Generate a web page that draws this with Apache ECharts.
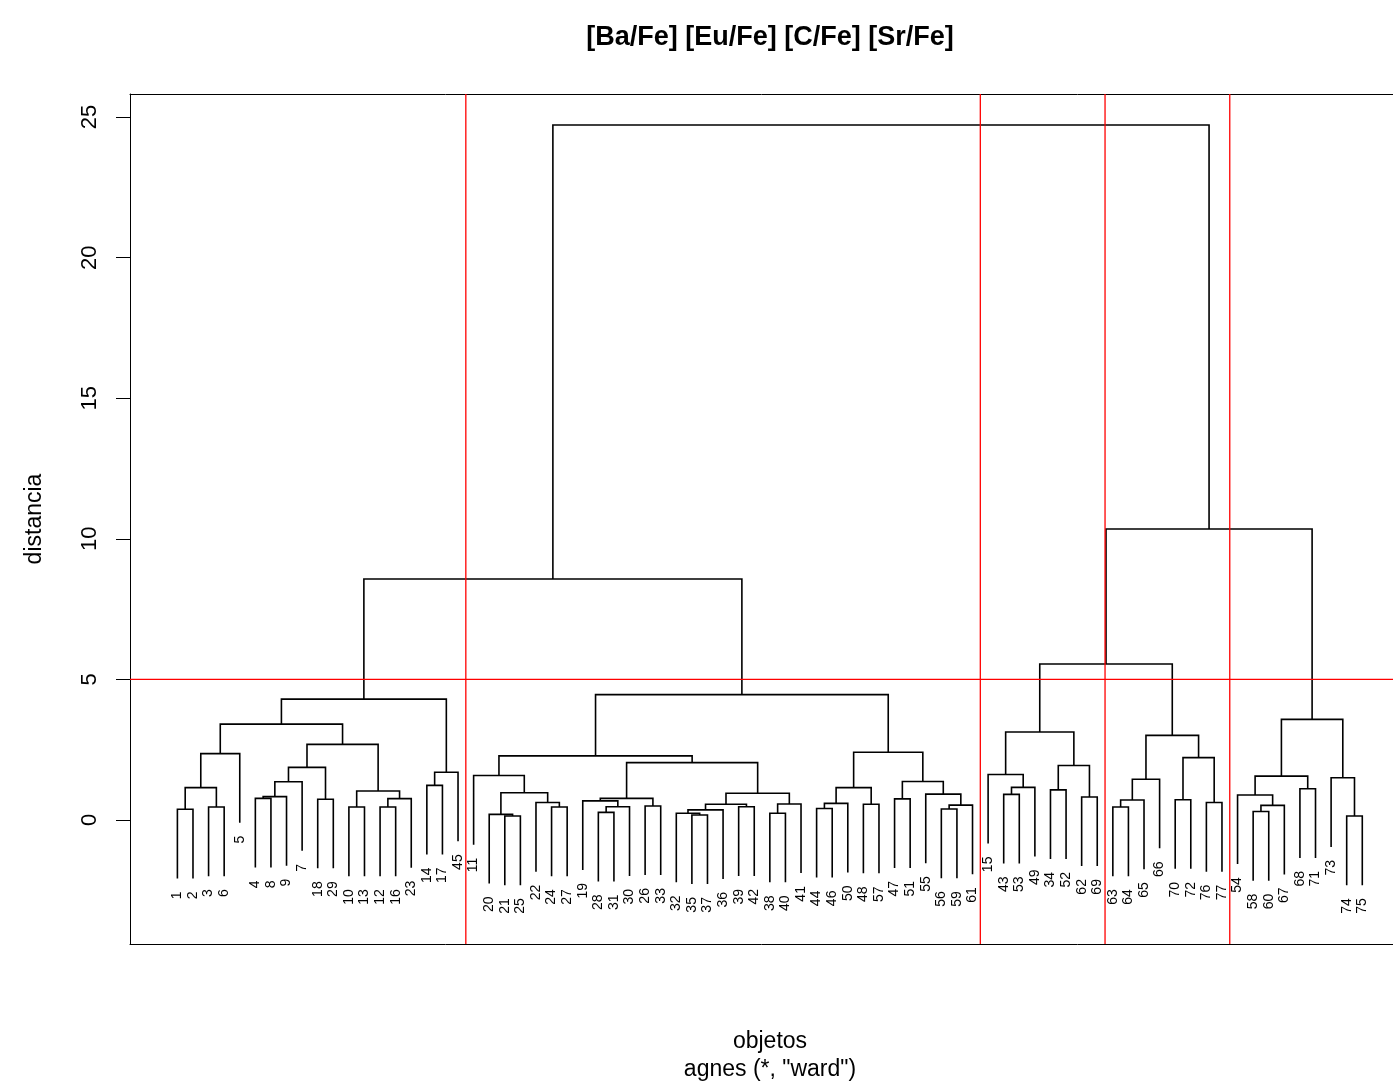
<!DOCTYPE html>
<html><head><meta charset="utf-8">
<script src="https://cdn.jsdelivr.net/npm/echarts@6/dist/echarts.min.js"></script>
<style>html,body{margin:0;padding:0;background:#fff}#c{width:1393px;height:1088px}</style>
</head><body><div id="c"></div>
<script>
// Leaf labels in dendrogram order (left to right)
const leafOrder = [1,2,3,6,5,4,8,9,7,18,29,10,13,12,16,23,14,17,45,11,20,21,25,22,24,27,19,28,31,30,26,33,32,35,37,36,39,42,38,40,41,44,46,50,48,57,47,51,55,56,59,61,15,43,53,49,34,52,62,69,63,64,65,66,70,72,76,77,54,58,60,67,68,71,73,74,75];
// hclust-style merge table: negative = observation, positive = earlier merge row (1-based)
const merges = [
 [-1,-2],[-3,-6],[1,2],[3,-5],[-4,-8],[5,-9],[6,-7],[-18,-29],[7,8],[-10,-13],
 [-12,-16],[11,-23],[10,12],[9,13],[4,14],[-14,-17],[16,-45],[15,17],
 [-21,-25],[-20,19],[-24,-27],[-22,21],[20,22],[-11,23],[-28,-31],[25,-30],[-19,26],[-26,-33],[27,28],
 [-35,-37],[-32,30],[31,-36],[-39,-42],[32,33],[-38,-40],[35,-41],[34,36],[29,37],[24,38],
 [-44,-46],[40,-50],[-48,-57],[41,42],[-47,-51],[-56,-59],[45,-61],[-55,46],[44,47],[43,48],[39,49],[18,50],
 [-43,-53],[52,-49],[-15,53],[-34,-52],[-62,-69],[55,56],[54,57],
 [-63,-64],[59,-65],[60,-66],[-70,-72],[-76,-77],[62,63],[61,64],[58,65],
 [-58,-60],[67,-67],[-54,68],[-68,-71],[69,70],[-74,-75],[-73,72],[71,73],[66,74],[51,75]
];
// merge heights (distancia)
const heights = [
 0.38,0.46,1.15,2.36,0.77,0.83,1.36,0.74,1.87,0.46,
 0.46,0.76,1.03,2.69,3.41,1.23,1.70,4.30,
 0.14,0.20,0.46,0.62,0.97,1.58,0.27,0.47,0.68,0.50,0.77,
 0.18,0.24,0.36,0.47,0.56,0.24,0.57,0.95,2.04,2.28,
 0.41,0.59,0.56,1.15,0.75,0.39,0.53,0.92,1.37,2.41,4.46,8.57,
 0.91,1.16,1.62,1.07,0.82,1.94,3.13,
 0.46,0.71,1.45,0.72,0.62,2.22,3.01,5.55,
 0.30,0.52,0.89,1.11,1.56,0.14,1.50,3.58,10.35,24.72
];
const yTicks = [0,5,10,15,20,25];
const cutHeight = 5;
const titleText = '[Ba/Fe] [Eu/Fe] [C/Fe] [Sr/Fe]';
const yName = 'distancia';
const xName = 'objetos';
const subName = 'agnes (*, "ward")';

const n = leafOrder.length;
const pos = {}; leafOrder.forEach((lab,i)=>{pos[lab]=i+1;});
const hangVal = 0.1*(Math.max(...heights)-Math.min(...heights));
const nodeX = [], nodeMin = [], nodeMax = [];
const links = [], leaves = [];
merges.forEach(([a,b],i)=>{
  const h = heights[i];
  const info = c => c<0 ? {x:pos[-c], y:h-hangVal, lo:pos[-c], hi:pos[-c]} : {x:nodeX[c-1], y:heights[c-1], lo:nodeMin[c-1], hi:nodeMax[c-1]};
  const A = info(a), B = info(b);
  nodeX[i] = (A.x+B.x)/2;
  nodeMin[i] = Math.min(A.lo,B.lo); nodeMax[i] = Math.max(A.hi,B.hi);
  links.push([A.x,B.x,A.y,B.y,h]);
  if(a<0) leaves.push([A.x,A.y,-a]);
  if(b<0) leaves.push([B.x,B.y,-b]);
});
// cluster boundaries when cutting the tree at cutHeight
const clusters = [];
(function collect(c){
  if(c<0){ clusters.push([pos[-c],pos[-c]]); return; }
  if(heights[c-1] <= cutHeight){ clusters.push([nodeMin[c-1],nodeMax[c-1]]); return; }
  collect(merges[c-1][0]); collect(merges[c-1][1]);
})(merges.length);
clusters.sort((p,q)=>p[0]-q[0]);
const bounds = [];
for(let k=0;k<clusters.length-1;k++) bounds.push((clusters[k][1]+clusters[k+1][0])/2);
// cut lines: [orientation (0 = vertical at x, 1 = horizontal at y), value]
const cutLines = bounds.map(v=>[0,v]).concat([[1,cutHeight]]);

const FONT = '"Liberation Sans", Arial, Helvetica, sans-serif';
const RED = '#ff0000';
const blackLine = {show:true, onZero:false, lineStyle:{color:'#000', width:1}};
const chart = echarts.init(document.getElementById('c'), null, {renderer:'canvas'});
chart.setOption({
  animation:false,
  backgroundColor:'#fff',
  grid:{left:130, right:0, top:94, bottom:144, show:false},
  xAxis:[
    {type:'value', min:-2.04, max:78.97, position:'bottom', axisLine:blackLine, axisTick:{show:false}, axisLabel:{show:false}, splitLine:{show:false}},
    {type:'value', min:-2.04, max:78.97, position:'top', axisLine:blackLine, axisTick:{show:false}, axisLabel:{show:false}, splitLine:{show:false}}
  ],
  yAxis:{type:'value', min:-4.41, max:25.82,
    axisLine:blackLine,
    splitLine:{show:false},
    axisTick:{show:true, length:14, customValues:yTicks, lineStyle:{color:'#000', width:1}},
    axisLabel:{show:true, rotate:90, margin:29, customValues:yTicks, color:'#000', fontSize:22, fontFamily:FONT}
  },
  graphic:[
    {type:'text', x:770, y:38, style:{text:titleText, font:'bold 27px '+FONT, fill:'#000', textAlign:'center', textVerticalAlign:'middle'}},
    {type:'text', x:35, y:519, rotation:Math.PI/2, style:{text:yName, font:'23px '+FONT, fill:'#000', textAlign:'center', textVerticalAlign:'middle'}},
    {type:'text', x:770, y:1042, style:{text:xName, font:'23px '+FONT, fill:'#000', textAlign:'center', textVerticalAlign:'middle'}},
    {type:'text', x:770, y:1070, style:{text:subName, font:'23px '+FONT, fill:'#000', textAlign:'center', textVerticalAlign:'middle'}}
  ],
  series:[
    {type:'custom', name:'links', data:links, clip:false, silent:true,
     renderItem:(params, api)=>{
       const xa=api.value(0), xb=api.value(1), ya=api.value(2), yb=api.value(3), h=api.value(4);
       return {type:'polyline', shape:{points:[api.coord([xa,ya]),api.coord([xa,h]),api.coord([xb,h]),api.coord([xb,yb])]},
         style:{stroke:'#000', lineWidth:1.6, fill:null}};
     }
    },
    {type:'custom', name:'cuts', data:cutLines, clip:true, silent:true, z:3,
     renderItem:(params, api)=>{
       const cs = params.coordSys;
       const v = api.value(1);
       let shape;
       if(api.value(0)===0){ const x = api.coord([v,0])[0]; shape = {x1:x, y1:cs.y, x2:x, y2:cs.y+cs.height}; }
       else { const y = api.coord([0,v])[1]; shape = {x1:cs.x, y1:y, x2:cs.x+cs.width, y2:y}; }
       return {type:'line', shape, style:{stroke:RED, lineWidth:1.3}};
     }
    },
    {type:'custom', name:'labels', data:leaves, clip:false, silent:true,
     renderItem:(params, api)=>{
       const p = api.coord([api.value(0), api.value(1)]);
       return {type:'text', x:p[0], y:p[1]+13, rotation:Math.PI/2,
         style:{text:String(api.value(2)), font:'14px '+FONT, fill:'#000', textAlign:'right', textVerticalAlign:'middle'}};
     }
    }
  ]
});
</script>
</body></html>
